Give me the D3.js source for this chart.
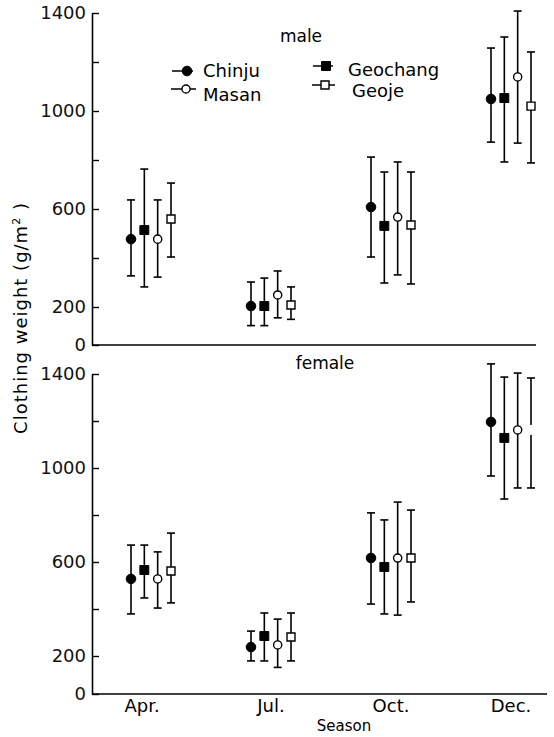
<!DOCTYPE html>
<html>
<head>
<meta charset="utf-8">
<script src="https://cdn.jsdelivr.net/npm/d3@7"></script>
<style>
  body { margin: 0; background: #fff; }
  svg { display: block; font-family: "DejaVu Sans", sans-serif; }
</style>
</head>
<body>
<svg id="drawing_region"></svg>
<script>
// data (g/m2)
const seasons = ["Apr.", "Jul.", "Oct.", "Dec."];
const sites = ["Chinju", "Geochang", "Masan", "Geoje"];
const yTicks = [0, 200, 400, 600, 800, 1000, 1200, 1400];
const yLabels = [0, 200, 600, 1000, 1400];

// rows = seasons, columns = sites
const maleMean = [[477, 514, 477, 559], [204, 204, 249, 208], [608, 531, 567, 535], [1049, 1053, 1139, 1020]];
const maleHigh = [[637, 763, 637, 706], [302, 318, 347, 282], [812, 751, 792, 751], [1257, 1302, 1408, 1241]];
const maleLow  = [[327, 282, 322, 404], [102, 102, 143, 135], [404, 298, 331, 294], [873, 792, 869, 788]];

const femaleMean = [[528, 566, 528, 562], [238, 285, 247, 281], [617, 579, 617, 617], [1196, 1128, 1162, 1162]];
const femaleHigh = [[672, 672, 643, 723], [306, 383, 357, 383], [809, 779, 855, 821], [1443, 1387, 1404, 1383]];
const femaleLow  = [[379, 447, 404, 426], [174, 174, 140, 174], [421, 379, 374, 430], [966, 868, 915, 915]];

// marker lost in the print (female, Dec., Geoje)
const hiddenMarker = { panel: "female", season: "Dec.", site: "Geoje" };

const width = 554, height = 737;
const svg = d3.select("#drawing_region")
    .attr("width", width)
    .attr("height", height);

const axisX = 92;

const x = d3.scalePoint().domain(seasons).range([151, 511]);
const offset = d3.scalePoint().domain(sites).range([-20, 20]);

const panels = [
    { name: "male", mean: maleMean, high: maleHigh, low: maleLow,
      y: d3.scaleLinear().domain([0, 200, 1400]).range([345, 307, 13]),
      right: 536, titleX: 301, titleY: 42 },
    { name: "female", mean: femaleMean, high: femaleHigh, low: femaleLow,
      y: d3.scaleLinear().domain([0, 200, 1400]).range([694, 656, 374]),
      right: 547, titleX: 325, titleY: 369 }
];

const markerStyle = {
    Chinju:   { shape: d3.symbolCircle, fill: "#000" },
    Geochang: { shape: d3.symbolSquare, fill: "#000" },
    Masan:    { shape: d3.symbolCircle, fill: "#fff" },
    Geoje:    { shape: d3.symbolSquare, fill: "#fff" }
};
const symbolSize = { Chinju: 72, Geochang: 80, Masan: 52, Geoje: 64 };

function drawMarker(g, site, cx, cy) {
    const st = markerStyle[site];
    g.append("path")
        .attr("d", d3.symbol().type(st.shape).size(symbolSize[site])())
        .attr("transform", `translate(${cx},${cy})`)
        .attr("fill", st.fill)
        .attr("stroke", "#000")
        .attr("stroke-width", st.fill === "#fff" ? 1.4 : 1);
}

panels.forEach(p => {
    const g = svg.append("g");

    // y axis, ticks pointing inward
    const yAxis = d3.axisLeft(p.y)
        .tickValues(yTicks)
        .tickSizeInner(-7)
        .tickSizeOuter(0)
        .tickPadding(6)
        .tickFormat(d => yLabels.includes(d) ? d : "");
    const ya = g.append("g")
        .attr("transform", `translate(${axisX},0)`)
        .call(yAxis);
    ya.select(".domain").attr("stroke-width", 1.6);
    ya.selectAll(".tick line").attr("stroke-width", 1.4);
    ya.selectAll(".tick text")
        .attr("font-size", 18)
        .attr("font-family", "DejaVu Sans")
        .attr("fill", "#111");

    // x axis line
    g.append("line")
        .attr("x1", axisX).attr("x2", p.right)
        .attr("y1", p.y(0)).attr("y2", p.y(0))
        .attr("stroke", "#000")
        .attr("stroke-width", 1.6);

    g.append("text")
        .attr("x", p.titleX)
        .attr("y", p.titleY)
        .attr("text-anchor", "middle")
        .attr("font-size", 17)
        .text(p.name);

    seasons.forEach((s, i) => {
        sites.forEach((site, j) => {
            const cx = x(s) + offset(site);
            const top = p.y(p.high[i][j]), bot = p.y(p.low[i][j]), mid = p.y(p.mean[i][j]);
            g.append("line")
                .attr("x1", cx).attr("x2", cx)
                .attr("y1", top).attr("y2", bot)
                .attr("stroke", "#000").attr("stroke-width", 1.6);
            [top, bot].forEach(yy => {
                g.append("line")
                    .attr("x1", cx - 4).attr("x2", cx + 4)
                    .attr("y1", yy).attr("y2", yy)
                    .attr("stroke", "#000").attr("stroke-width", 1.6);
            });
            if (p.name === hiddenMarker.panel && s === hiddenMarker.season && site === hiddenMarker.site) {
                g.append("rect")
                    .attr("x", cx - 3).attr("y", mid - 5)
                    .attr("width", 6).attr("height", 10)
                    .attr("fill", "#fff");
            } else {
                drawMarker(g, site, cx, mid);
            }
        });
    });
});

// x labels
svg.append("g")
    .selectAll("text")
    .data(seasons)
    .join("text")
    .attr("x", d => x(d) - (d === "Apr." ? 9 : 0))
    .attr("y", 712)
    .attr("text-anchor", "middle")
    .attr("font-size", 18)
    .text(d => d);

svg.append("text")
    .attr("x", 344)
    .attr("y", 731)
    .attr("text-anchor", "middle")
    .attr("font-size", 15)
    .text("Season");

svg.append("text")
    .attr("transform", "translate(27,318) rotate(-90)")
    .attr("text-anchor", "middle")
    .attr("font-size", 18)
    .attr("letter-spacing", 1)
    .html("Clothing weight (g/m<tspan dy='-7' font-size='11'>2</tspan><tspan dy='7'> )</tspan>");

// legend
const legendItems = [
    { site: "Chinju",   lx1: 172, lx2: 193, mx: 187, my: 71, tx: 203, ty: 77 },
    { site: "Masan",    lx1: 171, lx2: 196, mx: 186, my: 89, tx: 203, ty: 101 },
    { site: "Geochang", lx1: 313, lx2: 333, mx: 326, my: 66, tx: 348, ty: 76 },
    { site: "Geoje",    lx1: 312, lx2: 335, mx: 325, my: 85, tx: 352, ty: 97 }
];
const legend = svg.append("g");
legendItems.forEach(d => {
    legend.append("line")
        .attr("x1", d.lx1).attr("x2", d.lx2)
        .attr("y1", d.my).attr("y2", d.my)
        .attr("stroke", "#000").attr("stroke-width", 1.5);
    drawMarker(legend, d.site, d.mx, d.my);
    legend.append("text")
        .attr("x", d.tx).attr("y", d.ty)
        .attr("font-size", 18)
        .text(d.site);
});
</script>
</body>
</html>
